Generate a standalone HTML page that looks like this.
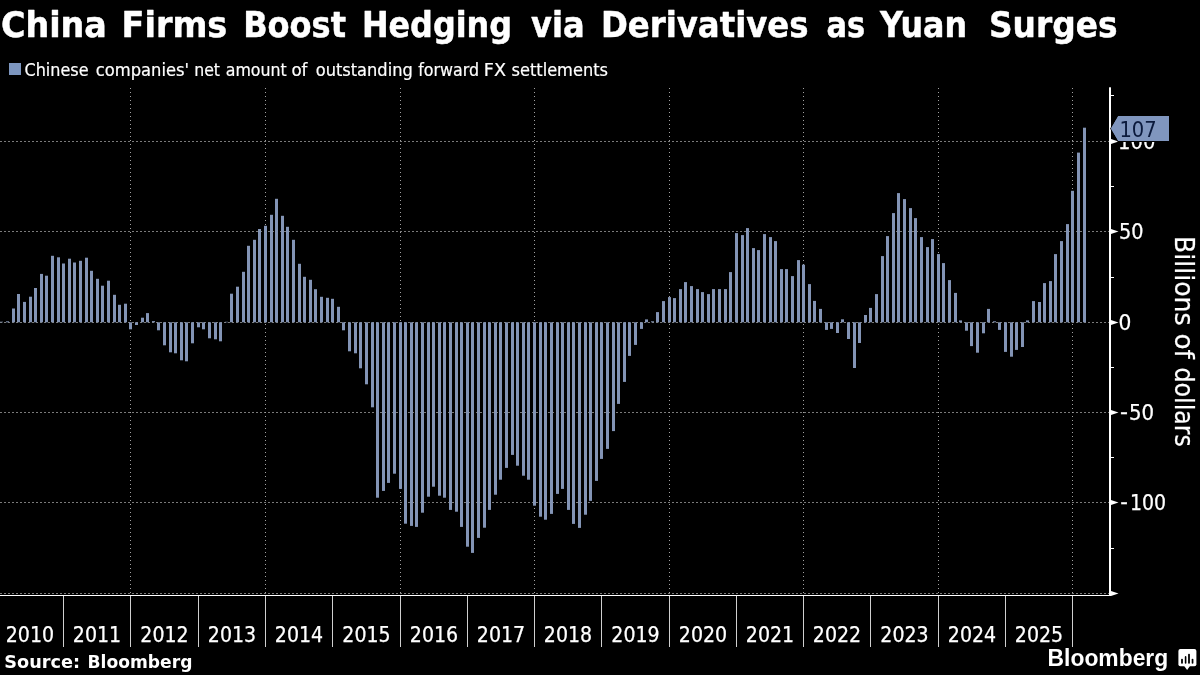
<!DOCTYPE html>
<html lang="en"><head><meta charset="utf-8"><title>China Firms Boost Hedging via Derivatives as Yuan Surges</title>
<style>html,body{margin:0;padding:0;background:#000;overflow:hidden}svg{display:block;will-change:transform}text{white-space:pre}</style></head><body>
<svg width="1200" height="675" viewBox="0 0 1200 675">
<rect width="1200" height="675" fill="#000"/>
<g font-family="'DejaVu Sans Condensed','DejaVu Sans','Liberation Sans',sans-serif" font-weight="700" font-size="35.7" fill="#fff" stroke="#fff" stroke-width="0.45" stroke-linejoin="round">
<text x="0.97" y="36.75" textLength="105.86" lengthAdjust="spacingAndGlyphs">China</text>
<text x="121.63" y="36.75" textLength="105.69" lengthAdjust="spacingAndGlyphs">Firms</text>
<text x="243.17" y="36.75" textLength="102.84" lengthAdjust="spacingAndGlyphs">Boost</text>
<text x="361.89" y="36.75" textLength="150.18" lengthAdjust="spacingAndGlyphs">Hedging</text>
<text x="531.0" y="36.75" textLength="53.61" lengthAdjust="spacingAndGlyphs">via</text>
<text x="600.94" y="36.75" textLength="207.59" lengthAdjust="spacingAndGlyphs">Derivatives</text>
<text x="826.4" y="36.75" textLength="38.66" lengthAdjust="spacingAndGlyphs">as</text>
<text x="880.0" y="36.75" textLength="87.05" lengthAdjust="spacingAndGlyphs">Yuan</text>
<text x="988.95" y="36.75" textLength="128.59" lengthAdjust="spacingAndGlyphs">Surges</text>
</g>
<rect x="9" y="63" width="12" height="12" fill="#7d96bf"/>
<g font-family="'DejaVu Sans Condensed','DejaVu Sans','Liberation Sans',sans-serif" font-size="17.7" fill="#fff" stroke="#fff" stroke-width="0.2">
<text x="24.47" y="75.6" textLength="64.06" lengthAdjust="spacingAndGlyphs">Chinese</text>
<text x="95.74" y="75.6" textLength="93.28" lengthAdjust="spacingAndGlyphs">companies&#39;</text>
<text x="194.16" y="75.6" textLength="25.84" lengthAdjust="spacingAndGlyphs">net</text>
<text x="225.74" y="75.6" textLength="61.01" lengthAdjust="spacingAndGlyphs">amount</text>
<text x="291.43" y="75.6" textLength="16.07" lengthAdjust="spacingAndGlyphs">of</text>
<text x="315.73" y="75.6" textLength="97.05" lengthAdjust="spacingAndGlyphs">outstanding</text>
<text x="418.24" y="75.6" textLength="60.78" lengthAdjust="spacingAndGlyphs">forward</text>
<text x="483.89" y="75.6" textLength="22.16" lengthAdjust="spacingAndGlyphs">FX</text>
<text x="511.48" y="75.6" textLength="96.55" lengthAdjust="spacingAndGlyphs">settlements</text>
</g>
<g stroke="#7a7a7a" stroke-width="1" stroke-dasharray="2 2" fill="none">
<line x1="0" y1="141.5" x2="1109" y2="141.5"/>
<line x1="0" y1="231.5" x2="1109" y2="231.5"/>
<line x1="0" y1="322.5" x2="1109" y2="322.5"/>
<line x1="0" y1="412.5" x2="1109" y2="412.5"/>
<line x1="0" y1="502.5" x2="1109" y2="502.5"/>
<line x1="0" y1="593.5" x2="1109" y2="593.5"/>
</g>
<g stroke="#a2a2a2" stroke-width="1" stroke-dasharray="1 3" fill="none">
<line x1="130.5" y1="88" x2="130.5" y2="595"/>
<line x1="265.5" y1="88" x2="265.5" y2="595"/>
<line x1="400.5" y1="88" x2="400.5" y2="595"/>
<line x1="534.5" y1="88" x2="534.5" y2="595"/>
<line x1="669.5" y1="88" x2="669.5" y2="595"/>
<line x1="803.5" y1="88" x2="803.5" y2="595"/>
<line x1="938.5" y1="88" x2="938.5" y2="595"/>
<line x1="1072.5" y1="88" x2="1072.5" y2="595"/>
</g>
<g fill="#8394b5">
<rect x="0" y="321.7" width="3" height="0.6"/>
<rect x="6" y="321.3" width="3" height="1.0"/>
<rect x="12" y="308.5" width="3" height="13.8"/>
<rect x="17" y="294.0" width="3" height="28.3"/>
<rect x="23" y="301.9" width="3" height="20.4"/>
<rect x="29" y="296.7" width="3" height="25.6"/>
<rect x="34" y="288.0" width="3" height="34.3"/>
<rect x="40" y="273.9" width="3" height="48.4"/>
<rect x="45" y="275.7" width="3" height="46.6"/>
<rect x="51" y="255.8" width="3" height="66.5"/>
<rect x="57" y="257.3" width="3" height="65.0"/>
<rect x="62" y="263.5" width="3" height="58.8"/>
<rect x="68" y="258.7" width="3" height="63.6"/>
<rect x="73" y="262.5" width="3" height="59.8"/>
<rect x="79" y="260.8" width="3" height="61.5"/>
<rect x="85" y="257.7" width="3" height="64.6"/>
<rect x="90" y="270.8" width="3" height="51.5"/>
<rect x="96" y="278.8" width="3" height="43.5"/>
<rect x="101" y="285.7" width="3" height="36.6"/>
<rect x="107" y="280.7" width="3" height="41.6"/>
<rect x="113" y="294.8" width="3" height="27.5"/>
<rect x="118" y="304.8" width="3" height="17.5"/>
<rect x="124" y="303.7" width="3" height="18.6"/>
<rect x="129" y="322.3" width="3" height="7.0"/>
<rect x="135" y="322.3" width="3" height="2.7"/>
<rect x="141" y="317.7" width="3" height="4.6"/>
<rect x="146" y="313.1" width="3" height="9.2"/>
<rect x="152" y="321.1" width="3" height="1.2"/>
<rect x="157" y="322.3" width="3" height="8.0"/>
<rect x="163" y="322.3" width="3" height="23.0"/>
<rect x="169" y="322.3" width="3" height="30.0"/>
<rect x="174" y="322.3" width="3" height="31.0"/>
<rect x="180" y="322.3" width="3" height="38.0"/>
<rect x="185" y="322.3" width="3" height="39.0"/>
<rect x="191" y="322.3" width="3" height="21.0"/>
<rect x="197" y="322.3" width="3" height="5.0"/>
<rect x="202" y="322.3" width="3" height="7.0"/>
<rect x="208" y="322.3" width="3" height="16.0"/>
<rect x="214" y="322.3" width="3" height="17.0"/>
<rect x="219" y="322.3" width="3" height="19.0"/>
<rect x="225" y="321.8" width="3" height="0.5"/>
<rect x="230" y="293.7" width="3" height="28.6"/>
<rect x="236" y="286.7" width="3" height="35.6"/>
<rect x="242" y="271.8" width="3" height="50.5"/>
<rect x="247" y="245.8" width="3" height="76.5"/>
<rect x="253" y="239.8" width="3" height="82.5"/>
<rect x="258" y="229.0" width="3" height="93.3"/>
<rect x="264" y="225.8" width="3" height="96.5"/>
<rect x="270" y="214.8" width="3" height="107.5"/>
<rect x="275" y="198.8" width="3" height="123.5"/>
<rect x="281" y="215.8" width="3" height="106.5"/>
<rect x="286" y="226.8" width="3" height="95.5"/>
<rect x="292" y="239.8" width="3" height="82.5"/>
<rect x="298" y="263.8" width="3" height="58.5"/>
<rect x="303" y="276.8" width="3" height="45.5"/>
<rect x="309" y="279.8" width="3" height="42.5"/>
<rect x="314" y="289.2" width="3" height="33.1"/>
<rect x="320" y="296.8" width="3" height="25.5"/>
<rect x="326" y="297.8" width="3" height="24.5"/>
<rect x="331" y="298.8" width="3" height="23.5"/>
<rect x="337" y="306.8" width="3" height="15.5"/>
<rect x="342" y="322.3" width="3" height="8.0"/>
<rect x="348" y="322.3" width="3" height="29.0"/>
<rect x="354" y="322.3" width="3" height="31.0"/>
<rect x="359" y="322.3" width="3" height="46.0"/>
<rect x="365" y="322.3" width="3" height="62.0"/>
<rect x="371" y="322.3" width="3" height="85.0"/>
<rect x="376" y="322.3" width="3" height="175.4"/>
<rect x="382" y="322.3" width="3" height="168.6"/>
<rect x="387" y="322.3" width="3" height="160.6"/>
<rect x="393" y="322.3" width="3" height="151.4"/>
<rect x="399" y="322.3" width="3" height="166.6"/>
<rect x="404" y="322.3" width="3" height="201.4"/>
<rect x="410" y="322.3" width="3" height="203.6"/>
<rect x="415" y="322.3" width="3" height="204.6"/>
<rect x="421" y="322.3" width="3" height="190.4"/>
<rect x="427" y="322.3" width="3" height="174.4"/>
<rect x="432" y="322.3" width="3" height="164.4"/>
<rect x="438" y="322.3" width="3" height="173.4"/>
<rect x="443" y="322.3" width="3" height="175.4"/>
<rect x="449" y="322.3" width="3" height="187.6"/>
<rect x="455" y="322.3" width="3" height="189.4"/>
<rect x="460" y="322.3" width="3" height="204.6"/>
<rect x="466" y="322.3" width="3" height="224.4"/>
<rect x="471" y="322.3" width="3" height="230.6"/>
<rect x="477" y="322.3" width="3" height="215.6"/>
<rect x="483" y="322.3" width="3" height="205.4"/>
<rect x="488" y="322.3" width="3" height="187.6"/>
<rect x="494" y="322.3" width="3" height="172.4"/>
<rect x="499" y="322.3" width="3" height="157.4"/>
<rect x="505" y="322.3" width="3" height="145.6"/>
<rect x="511" y="322.3" width="3" height="132.6"/>
<rect x="516" y="322.3" width="3" height="143.4"/>
<rect x="522" y="322.3" width="3" height="153.4"/>
<rect x="527" y="322.3" width="3" height="157.4"/>
<rect x="533" y="322.3" width="3" height="183.4"/>
<rect x="539" y="322.3" width="3" height="194.4"/>
<rect x="544" y="322.3" width="3" height="197.4"/>
<rect x="550" y="322.3" width="3" height="191.6"/>
<rect x="556" y="322.3" width="3" height="171.6"/>
<rect x="561" y="322.3" width="3" height="166.6"/>
<rect x="567" y="322.3" width="3" height="187.6"/>
<rect x="572" y="322.3" width="3" height="201.6"/>
<rect x="578" y="322.3" width="3" height="205.6"/>
<rect x="584" y="322.3" width="3" height="192.4"/>
<rect x="589" y="322.3" width="3" height="178.6"/>
<rect x="595" y="322.3" width="3" height="158.6"/>
<rect x="600" y="322.3" width="3" height="136.6"/>
<rect x="606" y="322.3" width="3" height="126.6"/>
<rect x="612" y="322.3" width="3" height="108.8"/>
<rect x="617" y="322.3" width="3" height="81.6"/>
<rect x="623" y="322.3" width="3" height="59.6"/>
<rect x="628" y="322.3" width="3" height="33.6"/>
<rect x="634" y="322.3" width="3" height="22.6"/>
<rect x="640" y="322.3" width="3" height="6.6"/>
<rect x="645" y="319.4" width="3" height="2.9"/>
<rect x="651" y="321.3" width="3" height="1.0"/>
<rect x="656" y="312.1" width="3" height="10.2"/>
<rect x="662" y="301.1" width="3" height="21.2"/>
<rect x="668" y="297.1" width="3" height="25.2"/>
<rect x="673" y="298.1" width="3" height="24.2"/>
<rect x="679" y="289.1" width="3" height="33.2"/>
<rect x="684" y="282.1" width="3" height="40.2"/>
<rect x="690" y="286.1" width="3" height="36.2"/>
<rect x="696" y="289.1" width="3" height="33.2"/>
<rect x="701" y="292.1" width="3" height="30.2"/>
<rect x="707" y="294.1" width="3" height="28.2"/>
<rect x="712" y="289.1" width="3" height="33.2"/>
<rect x="718" y="289.1" width="3" height="33.2"/>
<rect x="724" y="289.1" width="3" height="33.2"/>
<rect x="729" y="272.1" width="3" height="50.2"/>
<rect x="735" y="233.1" width="3" height="89.2"/>
<rect x="741" y="235.1" width="3" height="87.2"/>
<rect x="746" y="228.1" width="3" height="94.2"/>
<rect x="752" y="248.1" width="3" height="74.2"/>
<rect x="757" y="250.1" width="3" height="72.2"/>
<rect x="763" y="234.1" width="3" height="88.2"/>
<rect x="769" y="237.1" width="3" height="85.2"/>
<rect x="774" y="241.1" width="3" height="81.2"/>
<rect x="780" y="269.1" width="3" height="53.2"/>
<rect x="785" y="269.1" width="3" height="53.2"/>
<rect x="791" y="276.1" width="3" height="46.2"/>
<rect x="797" y="260.1" width="3" height="62.2"/>
<rect x="802" y="264.7" width="3" height="57.6"/>
<rect x="808" y="284.1" width="3" height="38.2"/>
<rect x="813" y="300.9" width="3" height="21.4"/>
<rect x="819" y="308.9" width="3" height="13.4"/>
<rect x="825" y="322.3" width="3" height="7.6"/>
<rect x="830" y="322.3" width="3" height="6.6"/>
<rect x="836" y="322.3" width="3" height="10.7"/>
<rect x="841" y="319.3" width="3" height="3.0"/>
<rect x="847" y="322.3" width="3" height="16.7"/>
<rect x="853" y="322.3" width="3" height="45.7"/>
<rect x="858" y="322.3" width="3" height="20.7"/>
<rect x="864" y="315.0" width="3" height="7.3"/>
<rect x="869" y="307.9" width="3" height="14.4"/>
<rect x="875" y="294.1" width="3" height="28.2"/>
<rect x="881" y="256.1" width="3" height="66.2"/>
<rect x="886" y="236.1" width="3" height="86.2"/>
<rect x="892" y="213.1" width="3" height="109.2"/>
<rect x="897" y="193.1" width="3" height="129.2"/>
<rect x="903" y="199.1" width="3" height="123.2"/>
<rect x="909" y="208.1" width="3" height="114.2"/>
<rect x="914" y="218.1" width="3" height="104.2"/>
<rect x="920" y="237.1" width="3" height="85.2"/>
<rect x="926" y="247.1" width="3" height="75.2"/>
<rect x="931" y="239.1" width="3" height="83.2"/>
<rect x="937" y="254.1" width="3" height="68.2"/>
<rect x="942" y="263.1" width="3" height="59.2"/>
<rect x="948" y="280.1" width="3" height="42.2"/>
<rect x="954" y="292.9" width="3" height="29.4"/>
<rect x="959" y="320.4" width="3" height="1.9"/>
<rect x="965" y="322.3" width="3" height="8.4"/>
<rect x="970" y="322.3" width="3" height="23.8"/>
<rect x="976" y="322.3" width="3" height="30.4"/>
<rect x="982" y="322.3" width="3" height="11.0"/>
<rect x="987" y="308.9" width="3" height="13.4"/>
<rect x="993" y="321.3" width="3" height="1.0"/>
<rect x="998" y="322.3" width="3" height="7.6"/>
<rect x="1004" y="322.3" width="3" height="29.6"/>
<rect x="1010" y="322.3" width="3" height="34.4"/>
<rect x="1015" y="322.3" width="3" height="27.6"/>
<rect x="1021" y="322.3" width="3" height="24.7"/>
<rect x="1026" y="320.4" width="3" height="1.9"/>
<rect x="1032" y="301.1" width="3" height="21.2"/>
<rect x="1038" y="302.0" width="3" height="20.3"/>
<rect x="1043" y="283.1" width="3" height="39.2"/>
<rect x="1049" y="281.1" width="3" height="41.2"/>
<rect x="1054" y="254.1" width="3" height="68.2"/>
<rect x="1060" y="241.1" width="3" height="81.2"/>
<rect x="1066" y="224.1" width="3" height="98.2"/>
<rect x="1071" y="190.8" width="3" height="131.5"/>
<rect x="1077" y="152.6" width="3" height="169.7"/>
<rect x="1083" y="127.7" width="3" height="194.6"/>
</g>
<rect x="0" y="595" width="1111" height="1" fill="#fff"/>
<g fill="#cfcfcf">
<rect x="63" y="596" width="1" height="51"/>
<rect x="130" y="596" width="1" height="51"/>
<rect x="198" y="596" width="1" height="51"/>
<rect x="265" y="596" width="1" height="51"/>
<rect x="332" y="596" width="1" height="51"/>
<rect x="400" y="596" width="1" height="51"/>
<rect x="467" y="596" width="1" height="51"/>
<rect x="534" y="596" width="1" height="51"/>
<rect x="601" y="596" width="1" height="51"/>
<rect x="669" y="596" width="1" height="51"/>
<rect x="736" y="596" width="1" height="51"/>
<rect x="803" y="596" width="1" height="51"/>
<rect x="870" y="596" width="1" height="51"/>
<rect x="938" y="596" width="1" height="51"/>
<rect x="1005" y="596" width="1" height="51"/>
<rect x="1072" y="596" width="1" height="51"/>
</g>
<g font-family="'DejaVu Sans Condensed','DejaVu Sans','Liberation Sans',sans-serif" font-size="21.9" fill="#fff" stroke="#fff" stroke-width="0.25" text-anchor="middle">
<text x="29.9" y="642.3" textLength="48.3" lengthAdjust="spacingAndGlyphs">2010</text>
<text x="97.0" y="642.3" textLength="48.3" lengthAdjust="spacingAndGlyphs">2011</text>
<text x="164.5" y="642.3" textLength="48.3" lengthAdjust="spacingAndGlyphs">2012</text>
<text x="232.0" y="642.3" textLength="48.3" lengthAdjust="spacingAndGlyphs">2013</text>
<text x="299.0" y="642.3" textLength="48.3" lengthAdjust="spacingAndGlyphs">2014</text>
<text x="366.5" y="642.3" textLength="48.3" lengthAdjust="spacingAndGlyphs">2015</text>
<text x="434.0" y="642.3" textLength="48.3" lengthAdjust="spacingAndGlyphs">2016</text>
<text x="501.0" y="642.3" textLength="48.3" lengthAdjust="spacingAndGlyphs">2017</text>
<text x="568.0" y="642.3" textLength="48.3" lengthAdjust="spacingAndGlyphs">2018</text>
<text x="635.5" y="642.3" textLength="48.3" lengthAdjust="spacingAndGlyphs">2019</text>
<text x="703.0" y="642.3" textLength="48.3" lengthAdjust="spacingAndGlyphs">2020</text>
<text x="770.0" y="642.3" textLength="48.3" lengthAdjust="spacingAndGlyphs">2021</text>
<text x="837.0" y="642.3" textLength="48.3" lengthAdjust="spacingAndGlyphs">2022</text>
<text x="904.5" y="642.3" textLength="48.3" lengthAdjust="spacingAndGlyphs">2023</text>
<text x="972.0" y="642.3" textLength="48.3" lengthAdjust="spacingAndGlyphs">2024</text>
<text x="1039.0" y="642.3" textLength="48.3" lengthAdjust="spacingAndGlyphs">2025</text>
</g>
<rect x="1109" y="87.3" width="2" height="508.7" fill="#fff"/>
<g fill="#fff">
<polygon points="1111,138.9 1118.5,141.5 1111,144.1"/>
<polygon points="1111,228.9 1118.5,231.5 1111,234.1"/>
<polygon points="1111,319.9 1118.5,322.5 1111,325.1"/>
<polygon points="1111,409.9 1118.5,412.5 1111,415.1"/>
<polygon points="1111,499.9 1118.5,502.5 1111,505.1"/>
<polygon points="1111,590.9 1118.5,593.5 1111,596.1"/>
<rect x="1111" y="95" width="3" height="1"/>
<rect x="1111" y="186" width="3" height="1"/>
<rect x="1111" y="277" width="3" height="1"/>
<rect x="1111" y="367" width="3" height="1"/>
<rect x="1111" y="457" width="3" height="1"/>
<rect x="1111" y="548" width="3" height="1"/>
</g>
<g font-family="'DejaVu Sans Condensed','DejaVu Sans','Liberation Sans',sans-serif" font-size="21.9" fill="#fff" stroke="#fff" stroke-width="0.25">
<text x="1118.1" y="149.3" textLength="37.40" lengthAdjust="spacingAndGlyphs">100</text>
<text x="1118.88" y="239.3" textLength="24.55" lengthAdjust="spacingAndGlyphs">50</text>
<text x="1118.4" y="330.3" textLength="12.87" lengthAdjust="spacingAndGlyphs">0</text>
<text x="1120.01" y="418.9" textLength="7.98" lengthAdjust="spacingAndGlyphs">-</text>
<text x="1128.96" y="420.3" textLength="25.10" lengthAdjust="spacingAndGlyphs">50</text>
<text x="1120.34" y="508.9" textLength="7.63" lengthAdjust="spacingAndGlyphs">-</text>
<text x="1129.98" y="510.3" textLength="36.10" lengthAdjust="spacingAndGlyphs">100</text>
</g>
<polygon points="1111,128.6 1118.3,115.9 1169,115.9 1169,141.1 1118.3,141.1" fill="#8096be" stroke="#000" stroke-width="1.6" paint-order="stroke" stroke-linejoin="miter"/>
<polygon points="1111,128.6 1118.3,115.9 1169,115.9 1169,141.1 1118.3,141.1" fill="#8096be"/>
<text x="1119.4" y="137" font-family="'DejaVu Sans Condensed','DejaVu Sans','Liberation Sans',sans-serif" font-size="21.9" fill="#0b1a3c" textLength="37.30" lengthAdjust="spacingAndGlyphs">107</text>
<g transform="translate(1175.4,0) rotate(90)" font-family="'DejaVu Sans Condensed','DejaVu Sans','Liberation Sans',sans-serif" font-size="27.2" fill="#fff" stroke="#fff" stroke-width="0.2">
<text x="235.92" y="0" textLength="89.73" lengthAdjust="spacingAndGlyphs">Billions</text>
<text x="333.46" y="0" textLength="25.42" lengthAdjust="spacingAndGlyphs">of</text>
<text x="367.59" y="0" textLength="79.23" lengthAdjust="spacingAndGlyphs">dollars</text>
</g>
<g font-family="'DejaVu Sans','Liberation Sans',sans-serif" font-weight="700" font-size="17.4" fill="#fff">
<text x="4.34" y="667.9" textLength="75.76" lengthAdjust="spacingAndGlyphs">Source:</text>
<text x="87.54" y="667.9" textLength="104.89" lengthAdjust="spacingAndGlyphs">Bloomberg</text>
</g>
<text x="1047.6" y="666.2" font-family="'Liberation Sans','DejaVu Sans',sans-serif" font-weight="700" font-size="23.2" fill="#fff" textLength="120.6" lengthAdjust="spacingAndGlyphs">Bloomberg</text>
<g>
<rect x="1178.4" y="649" width="18" height="17.3" rx="2" ry="2" fill="#fff"/>
<polygon points="1184.2,666 1190,666 1187.1,669.9" fill="#fff"/>
<g fill="#000">
<rect x="1181.1" y="658.8" width="1.8" height="4.9" rx="0.8"/>
<rect x="1184.8" y="656.1" width="1.6" height="7.6" rx="0.8"/>
<rect x="1188.1" y="653.7" width="1.8" height="10" rx="0.8"/>
<rect x="1191.7" y="658.8" width="1.7" height="4.9" rx="0.8"/>
</g></g>
</svg></body></html>
